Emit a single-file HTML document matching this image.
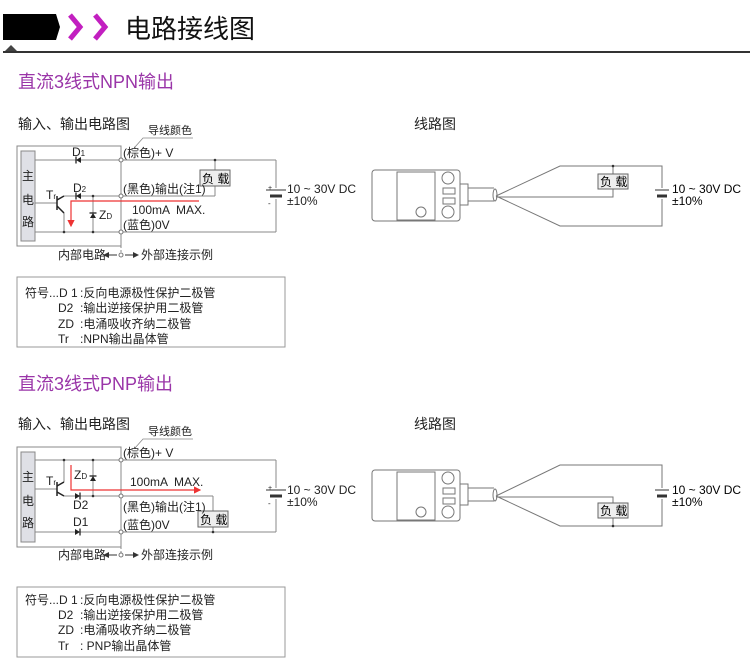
<!DOCTYPE html>
<html><head><meta charset="utf-8"><style>
body{margin:0;background:#fff;}
svg{display:block;font-family:"Liberation Sans","Noto Sans CJK SC",sans-serif;}
svg text{white-space:pre;}
</style></head><body>
<svg width="750" height="672" viewBox="0 0 750 672" xmlns="http://www.w3.org/2000/svg">
<defs>
<marker id="ar" markerWidth="6" markerHeight="6" refX="5" refY="3" orient="auto"><path d="M0,0L6,3L0,6z" fill="#e33"/></marker>
<marker id="ak" markerWidth="6" markerHeight="6" refX="5" refY="3" orient="auto"><path d="M0,0L6,3L0,6z" fill="#333"/></marker>
<g id="diode"><path d="M-3,-3L2,0L-3,3z" fill="#222"/><line x1="2" y1="-3.5" x2="2" y2="3.5" stroke="#222" stroke-width="1.3"/></g>
</defs>
<path d="M3,14H56L60,27L56,40H3z" fill="#000"/>
<path d="M4,52L11,45L18,52z" fill="#444"/>
<line x1="3" y1="52" x2="750" y2="52" stroke="#333" stroke-width="2"/>
<path d="M70,15L80,27L70,39" fill="none" stroke="#c21fc0" stroke-width="5"/>
<path d="M95,15L105,27L95,39" fill="none" stroke="#c21fc0" stroke-width="5"/>
<text x="125" y="38" font-size="26" fill="#111">电路接线图</text>

<g id="npn">
<text x="18" y="88" font-size="18" fill="#9a35a8">直流3线式NPN输出</text>
<text x="18" y="129" font-size="14" fill="#222">输入、输出电路图</text>
<text x="148" y="134" font-size="11" fill="#222">导线颜色</text>
<polyline points="193,138 143,138 135,147" fill="none" stroke="#888" stroke-width="0.8"/>
<g stroke="#888" stroke-width="1" fill="none">
<rect x="17" y="146" width="104" height="100"/>
<rect x="21" y="151" width="14" height="90" fill="#dfe0e6"/>
<line x1="35" y1="160" x2="276" y2="160"/>
<line x1="35" y1="232" x2="276" y2="232"/>
<line x1="276" y1="160" x2="276" y2="188"/><line x1="276" y1="199" x2="276" y2="232"/>
<line x1="64" y1="196" x2="215" y2="196"/>
<line x1="35" y1="203" x2="57" y2="203"/>
<line x1="215" y1="160" x2="215" y2="170"/><line x1="215" y1="186" x2="215" y2="196"/>
<line x1="64" y1="213" x2="64" y2="232"/>
<line x1="93" y1="196" x2="93" y2="232"/>
<line x1="121" y1="246" x2="121" y2="258" stroke-dasharray="2,2"/>
</g>
<g stroke="#222" stroke-width="1.5"><line x1="57" y1="196" x2="57" y2="210"/><line x1="57" y1="200" x2="64" y2="196"/><line x1="57" y1="206" x2="64" y2="213"/></g>
<rect x="200" y="170" width="30" height="16" fill="#eee" stroke="#666"/>
<text x="202" y="183" font-size="12">负 载</text>
<use href="#diode" x="78" y="160" transform="rotate(180 78 160)"/>
<use href="#diode" x="78" y="196" transform="rotate(180 78 196)"/>
<g transform="translate(93 215) rotate(-90)"><use href="#diode"/></g>
<g fill="#fff" stroke="#777"><circle cx="121" cy="160" r="2"/><circle cx="121" cy="196" r="2"/><circle cx="121" cy="232" r="2"/><circle cx="121" cy="255" r="2"/></g>
<g fill="#333"><circle cx="215" cy="160" r="1.3"/><circle cx="64" cy="232" r="1.3"/><circle cx="93" cy="196" r="1.3"/><circle cx="93" cy="232" r="1.3"/></g>
<polyline points="199,201 71,201 71,226" fill="none" stroke="#e33" stroke-width="1.2" marker-end="url(#ar)"/>
<line x1="266" y1="190" x2="286" y2="190" stroke="#333" stroke-width="1"/>
<line x1="270" y1="196" x2="282" y2="196" stroke="#333" stroke-width="3"/>
<g font-size="12" fill="#222">
<text x="22" y="180">主</text><text x="22" y="204">电</text><text x="22" y="226">路</text>
<text x="72" y="156">D<tspan font-size="8">1</tspan></text>
<text x="73" y="192">D<tspan font-size="8">2</tspan></text>
<text x="46" y="199">T<tspan font-size="8">r</tspan></text>
<text x="99" y="219">Z<tspan font-size="8">D</tspan></text>
<text x="123" y="157">(棕色)+ V</text>
<text x="123" y="193">(黑色)输出(注1)</text>
<text x="132" y="214">100mA  MAX.</text>
<text x="123" y="229">(蓝色)0V</text>
<text x="287" y="193">10 ~ 30V DC</text><text x="287" y="205">±10%</text>
<text x="268" y="190" font-size="7">+</text><text x="268" y="206" font-size="8">-</text>
<text x="58" y="259">内部电路</text><text x="141" y="259">外部连接示例</text>
</g>
<line x1="117" y1="255" x2="104" y2="255" stroke="#333" marker-end="url(#ak)"/>
<line x1="125" y1="255" x2="138" y2="255" stroke="#333" marker-end="url(#ak)"/>
<rect x="17" y="277" width="268" height="70" fill="none" stroke="#999"/>
<g font-size="12" fill="#222">
<text x="25" y="297">符号...D 1</text>
<text x="58" y="312">D2</text><text x="58" y="328">ZD</text><text x="58" y="343">Tr</text>
<text x="80" y="297">:反向电源极性保护二极管</text>
<text x="80" y="312">:输出逆接保护用二极管</text>
<text x="80" y="328">:电涌吸收齐纳二极管</text>
<text x="80" y="343">:NPN输出晶体管</text>
<text x="414" y="129" font-size="14">线路图</text>
</g>
<g stroke="#777" fill="none">
<rect x="372" y="170" width="88" height="51" rx="3"/>
<rect x="397" y="172" width="38" height="48"/>
<circle cx="448" cy="178" r="6"/><circle cx="448" cy="212" r="6"/><circle cx="421" cy="212" r="5"/>
<rect x="443" y="188" width="12" height="6"/><rect x="443" y="198" width="12" height="6"/>
<rect x="460" y="184" width="8" height="21"/>
<path d="M468,188H494M468,201H494"/><ellipse cx="495" cy="195" rx="2" ry="6"/>
<polyline points="496,196 560,166 662,166 662,188"/>
<polyline points="662,199 662,226 560,226 496,196"/>
<polyline points="496,197 613,197 613,189"/>
<line x1="613" y1="166" x2="613" y2="174"/>
</g>
<circle cx="613" cy="166" r="1.3" fill="#333"/>
<rect x="598" y="174" width="30" height="15" fill="#eee" stroke="#666"/>
<text x="600" y="186" font-size="12">负 载</text>
<line x1="655" y1="190" x2="669" y2="190" stroke="#333"/>
<line x1="657" y1="196" x2="667" y2="196" stroke="#333" stroke-width="3"/>
<text x="672" y="193" font-size="12">10 ~ 30V DC</text><text x="672" y="205" font-size="12">±10%</text>
</g>

<g id="pnp" transform="translate(0 300)">
<text x="18" y="90" font-size="18" fill="#9a35a8">直流3线式PNP输出</text>
<text x="18" y="129" font-size="14" fill="#222">输入、输出电路图</text>
<text x="148" y="135" font-size="11" fill="#222">导线颜色</text>
<polyline points="193,139 143,139 135,148" fill="none" stroke="#888" stroke-width="0.8"/>
<g stroke="#888" stroke-width="1" fill="none">
<rect x="17" y="147" width="104" height="100"/>
<rect x="21" y="152" width="14" height="90" fill="#dfe0e6"/>
<line x1="35" y1="160" x2="276" y2="160"/>
<line x1="35" y1="232" x2="276" y2="232"/>
<line x1="276" y1="160" x2="276" y2="188"/><line x1="276" y1="199" x2="276" y2="232"/>
<line x1="64" y1="196" x2="213" y2="196"/>
<line x1="213" y1="196" x2="213" y2="211"/><line x1="213" y1="227" x2="213" y2="232"/>
<line x1="35" y1="189" x2="57" y2="189"/>
<line x1="64" y1="160" x2="64" y2="182"/>
<line x1="93" y1="160" x2="93" y2="196"/>
<line x1="121" y1="247" x2="121" y2="258" stroke-dasharray="2,2"/>
</g>
<g stroke="#222" stroke-width="1.5"><line x1="57" y1="182" x2="57" y2="196"/><line x1="57" y1="186" x2="64" y2="182"/><line x1="57" y1="192" x2="64" y2="196"/></g>
<rect x="198" y="211" width="30" height="16" fill="#eee" stroke="#666"/>
<text x="200" y="224" font-size="12">负 载</text>
<use href="#diode" x="78" y="232"/>
<use href="#diode" x="78" y="196"/>
<g transform="translate(93 178) rotate(-90)"><use href="#diode"/></g>
<g fill="#fff" stroke="#777"><circle cx="121" cy="160" r="2"/><circle cx="121" cy="196" r="2"/><circle cx="121" cy="232" r="2"/><circle cx="121" cy="255" r="2"/></g>
<g fill="#333"><circle cx="64" cy="160" r="1.3"/><circle cx="93" cy="160" r="1.3"/><circle cx="93" cy="196" r="1.3"/><circle cx="213" cy="232" r="1.3"/></g>
<polyline points="71,165 71,190 200,190" fill="none" stroke="#e33" stroke-width="1.2" marker-end="url(#ar)"/>
<line x1="266" y1="190" x2="286" y2="190" stroke="#333" stroke-width="1"/>
<line x1="270" y1="196" x2="282" y2="196" stroke="#333" stroke-width="3"/>
<g font-size="12" fill="#222">
<text x="22" y="181">主</text><text x="22" y="205">电</text><text x="22" y="227">路</text>
<text x="74" y="179">Z<tspan font-size="8">D</tspan></text>
<text x="73" y="209">D2</text>
<text x="73" y="226">D1</text>
<text x="46" y="185">T<tspan font-size="8">r</tspan></text>
<text x="123" y="157">(棕色)+ V</text>
<text x="130" y="186">100mA  MAX.</text>
<text x="123" y="211">(黑色)输出(注1)</text>
<text x="123" y="229">(蓝色)0V</text>
<text x="287" y="194">10 ~ 30V DC</text><text x="287" y="206">±10%</text>
<text x="268" y="190" font-size="7">+</text><text x="268" y="206" font-size="8">-</text>
<text x="58" y="259">内部电路</text><text x="141" y="259">外部连接示例</text>
</g>
<line x1="117" y1="255" x2="104" y2="255" stroke="#333" marker-end="url(#ak)"/>
<line x1="125" y1="255" x2="138" y2="255" stroke="#333" marker-end="url(#ak)"/>
<rect x="17" y="287" width="268" height="70" fill="none" stroke="#999"/>
<g font-size="12" fill="#222">
<text x="25" y="304">符号...D 1</text>
<text x="58" y="319">D2</text><text x="58" y="334">ZD</text><text x="58" y="350">Tr</text>
<text x="80" y="304">:反向电源极性保护二极管</text>
<text x="80" y="319">:输出逆接保护用二极管</text>
<text x="80" y="334">:电涌吸收齐纳二极管</text>
<text x="80" y="350">: PNP输出晶体管</text>
<text x="414" y="129" font-size="14">线路图</text>
</g>
<g stroke="#777" fill="none">
<rect x="372" y="170" width="88" height="51" rx="3"/>
<rect x="397" y="172" width="38" height="48"/>
<circle cx="448" cy="178" r="6"/><circle cx="448" cy="212" r="6"/><circle cx="421" cy="212" r="5"/>
<rect x="443" y="188" width="12" height="6"/><rect x="443" y="198" width="12" height="6"/>
<rect x="460" y="184" width="8" height="21"/>
<path d="M468,188H494M468,201H494"/><ellipse cx="495" cy="195" rx="2" ry="6"/>
<polyline points="496,196 560,165 662,165 662,188"/>
<polyline points="662,199 662,226 560,226 496,196"/>
<polyline points="496,197 613,197 613,203"/>
<line x1="613" y1="218" x2="613" y2="226"/>
</g>
<circle cx="613" cy="226" r="1.3" fill="#333"/>
<rect x="598" y="203" width="30" height="15" fill="#eee" stroke="#666"/>
<text x="600" y="215" font-size="12">负 载</text>
<line x1="655" y1="190" x2="669" y2="190" stroke="#333"/>
<line x1="657" y1="196" x2="667" y2="196" stroke="#333" stroke-width="3"/>
<text x="672" y="194" font-size="12">10 ~ 30V DC</text><text x="672" y="206" font-size="12">±10%</text>
</g>
</svg>
</body></html>
